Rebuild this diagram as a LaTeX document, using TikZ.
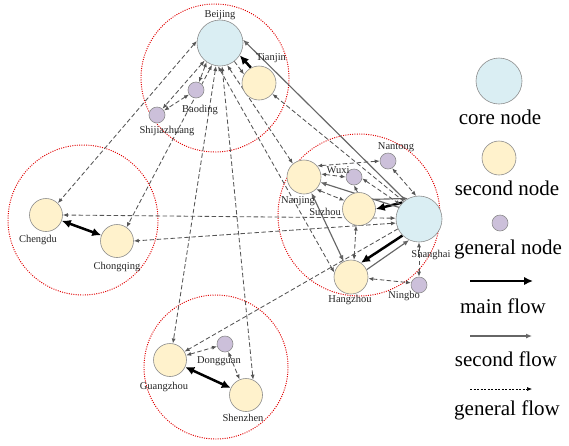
\documentclass[tikz,border=0pt]{standalone}
\usepackage{fontspec}
\setmainfont{Liberation Serif}
\usetikzlibrary{arrows.meta,backgrounds}
\definecolor{corefill}{HTML}{DAEEF3}
\definecolor{secfill}{HTML}{FFF2CC}
\definecolor{genfill}{HTML}{CCC0DA}
\definecolor{nodeline}{HTML}{8C8C8C}
\definecolor{flowgray}{HTML}{555555}
\definecolor{secgray}{HTML}{666666}
\definecolor{regionred}{HTML}{E00000}
\tikzset{
  corenode/.style={circle,draw=nodeline,line width=0.6pt,fill=corefill,minimum size=46pt,inner sep=0pt},
  secnode/.style={circle,draw=nodeline,line width=0.6pt,fill=secfill,minimum size=34pt,inner sep=0pt},
  gennode/.style={circle,draw=nodeline,line width=0.6pt,fill=genfill,minimum size=16pt,inner sep=0pt},
  citylabel/.style={font=\fontsize{10.5}{12}\selectfont,inner sep=0pt,text=black!85},
  legendlabel/.style={font=\fontsize{21}{24}\selectfont,inner sep=0pt},
  region/.style={draw=regionred,line width=0.95pt,dash pattern=on 1pt off 1.3pt},
  mainflow/.style={draw=black,line width=2.5pt,arrows={-Latex[length=9pt,width=8.5pt]}},
  mainboth/.style={draw=black,line width=2.5pt,arrows={Latex[length=9pt,width=8.5pt]-Latex[length=9pt,width=8.5pt]}},
  secflow/.style={draw=secgray,line width=1.15pt,arrows={-Latex[length=6pt,width=5pt]}},
  secboth/.style={draw=secgray,line width=1.15pt,arrows={Latex[length=6pt,width=5pt]-Latex[length=6pt,width=5pt]}},
  genflow/.style={draw=flowgray,line width=0.85pt,dash pattern=on 4.5pt off 2.5pt,arrows={-Latex[length=5pt,width=4pt]}},
  genboth/.style={draw=flowgray,line width=0.85pt,dash pattern=on 4.5pt off 2.5pt,arrows={Latex[length=5pt,width=4pt]-Latex[length=5pt,width=4pt]}},
  legendgen/.style={draw=black,line width=0.6pt,dash pattern=on 2pt off 1.5pt,arrows={-Latex[length=5pt,width=4pt]}}
}
\begin{document}
\begin{tikzpicture}[x=1pt,y=-1pt]
\useasboundingbox (0,0) rectangle (569,445);
% ---- nodes ----
\node[corenode] (Beijing) at (220,43) {};
\node[secnode] (Tianjin) at (259,83) {};
\node[gennode] (Baoding) at (196,90) {};
\node[gennode] (Shijiazhuang) at (157,115) {};
\node[secnode,minimum size=33pt] (Chengdu) at (46,215) {};
\node[secnode,minimum size=33pt] (Chongqing) at (117,241) {};
\node[secnode,minimum size=33pt] (Guangzhou) at (170,360) {};
\node[secnode,minimum size=33pt] (Shenzhen) at (246,395) {};
\node[gennode] (Dongguan) at (225,344) {};
\node[corenode] (Shanghai) at (419,219) {};
\node[secnode] (Nanjing) at (304,177) {};
\node[secnode,minimum size=33pt] (Suzhou) at (359,209) {};
\node[secnode] (Hangzhou) at (351,277) {};
\node[gennode] (Wuxi) at (354,177) {};
\node[gennode] (Nantong) at (388,161) {};
\node[gennode] (Ningbo) at (419,285) {};
% ---- labels ----
\node[citylabel] (lBeijing) at (220,15) {Beijing};
\node[citylabel] (lTianjin) at (271,58) {Tianjin};
\node[citylabel] (lBaoding) at (200,110) {Baoding};
\node[citylabel] (lShijiazhuang) at (167,131) {Shijiazhuang};
\node[citylabel] (lChengdu) at (38,240) {Chengdu};
\node[citylabel] (lChongqing) at (117,267) {Chongqing};
\node[citylabel] (lGuangzhou) at (164,387) {Guangzhou};
\node[citylabel] (lShenzhen) at (243,418) {Shenzhen};
\node[citylabel] (lDongguan) at (219,361) {Dongguan};
\node[citylabel] (lNanjing) at (298,201) {Nanjing};
\node[citylabel] (lSuzhou) at (325,212) {Suzhou};
\node[citylabel] (lWuxi) at (338,170) {Wuxi};
\node[citylabel] (lNantong) at (396,147) {Nantong};
\node[citylabel] (lShanghai) at (431,255) {Shanghai};
\node[citylabel] (lNingbo) at (404,296) {Ningbo};
\node[citylabel] (lHangzhou) at (350,300) {Hangzhou};
% ---- regions and flows (behind nodes) ----
\begin{scope}[on background layer]
\draw[region] (215,78) circle[radius=74];
\draw[region] (83,220) circle[radius=75];
\draw[region] (216,367) circle[radius=72];
\draw[region] (359,215) circle[radius=81];
% main flows
\draw[mainflow] (Tianjin.118) -- (Beijing.-32);
\draw[mainflow] (Shanghai.135) -- (Suzhou.0);
\draw[mainflow] (Shanghai.225) -- (Hangzhou.55);
\draw[mainboth] (Chengdu) -- (Chongqing);
\draw[mainboth] (Guangzhou) -- (Shenzhen);
% second flows
\draw[secflow] (Shanghai.126) -- (Beijing.8);
\draw[secflow] (Hangzhou.25) -- (Shanghai.245);
\draw[secflow] (Shanghai.150) -- (Nanjing.-18);
\draw[secflow] (Suzhou.35) -- (Shanghai.118);
\draw[secboth] (Nanjing) -- (Hangzhou);
% general flows - Beijing
\draw[genflow] (Beijing.-52) -- (Tianjin.150);
\draw[genboth] (Beijing.235) -- (Baoding);
\draw[genboth] (Beijing) -- (Shijiazhuang);
\draw[genboth] (Baoding) -- (Shijiazhuang);
\draw[genboth] (Beijing.175) -- (Chengdu.45);
\draw[genboth] (Beijing.-110) -- (Chongqing.55);
\draw[genboth] (Beijing.-100) -- (Guangzhou.80);
\draw[genboth] (Beijing.-85) -- (Shenzhen.65);
\draw[genboth] (Beijing.-72) -- (Nanjing.130);
\draw[genboth] (Beijing.-95) -- (Hangzhou.165);
% general flows - Shanghai long
\draw[genflow] (Shanghai.131) -- (Tianjin);
\draw[genboth] (Shanghai.178) -- (Chengdu.east);
\draw[genboth] (Shanghai.190) -- (Chongqing.east);
\draw[genflow] (Shanghai.205) -- (Guangzhou.30);
% general flows - south
\draw[genboth] (Guangzhou) -- (Dongguan);
\draw[genboth] (Dongguan) -- (Shenzhen);
% general flows - Yangtze
\draw[genboth] (Nanjing.10) -- (Wuxi.180);
\draw[genboth] (Wuxi.-10) -- (Shanghai.142);
\draw[genboth] (Nanjing.40) -- (Nantong.180);
\draw[genboth] (Nantong.-60) -- (Shanghai.97);
\draw[genboth] (Nanjing.-45) -- (Suzhou.150);
\draw[genflow] (Suzhou.95) -- (Wuxi.-90);
\draw[genboth] (Suzhou.-100) -- (Hangzhou.80);
\draw[genboth] (Shanghai.-90) -- (Ningbo.90);
\draw[genboth] (Hangzhou.-5) -- (Ningbo.165);
\end{scope}
% ---- legend ----
\node[corenode] (legCore) at (499,81) {};
\node[legendlabel] (legCoreText) at (500,117) {core node};
\node[secnode] (legSec) at (499,158) {};
\node[legendlabel] (legSecText) at (507,188) {second node};
\node[gennode] (legGen) at (500,223) {};
\node[legendlabel] (legGenText) at (508,249) {general node};
\coordinate (m1) at (470,281);
\coordinate (m2) at (533,281);
\draw[mainflow] (m1) -- (m2);
\node[legendlabel] (legMainText) at (503,306) {main flow};
\coordinate (s1) at (470,336);
\coordinate (s2) at (532,336);
\draw[secflow] (s1) -- (s2);
\node[legendlabel] (legSecFlowText) at (506,359) {second flow};
\coordinate (g1) at (470,389);
\coordinate (g2) at (532,389);
\draw[legendgen] (g1) -- (g2);
\node[legendlabel] (legGenFlowText) at (507,410) {general flow};
\end{tikzpicture}
\end{document}
